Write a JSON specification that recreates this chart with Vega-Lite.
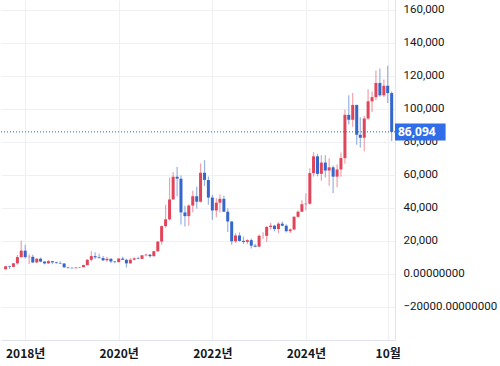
{
  "$schema": "https://vega.github.io/schema/vega-lite/v6.json",
  "width": 394,
  "height": 340,
  "padding": 0,
  "background": "white",
  "config": {"view": {"stroke": null}, "font": "Noto Sans"},
  "data": {"values": [
    {"d":"2017-08-01","o":2871,"h":4740,"l":2603,"c":4703},
    {"d":"2017-09-01","o":4701,"h":5013,"l":2972,"c":4339},
    {"d":"2017-10-01","o":4341,"h":6470,"l":4108,"c":6468},
    {"d":"2017-11-01","o":6449,"h":11517,"l":5520,"c":10233},
    {"d":"2017-12-01","o":10198,"h":20089,"l":9822,"c":14156},
    {"d":"2018-01-01","o":14112,"h":17712,"l":9402,"c":10221},
    {"d":"2018-02-01","o":10237,"h":11958,"l":6048,"c":10397},
    {"d":"2018-03-01","o":10385,"h":11711,"l":6675,"c":6973},
    {"d":"2018-04-01","o":7003,"h":9745,"l":6526,"c":9240},
    {"d":"2018-05-01","o":9251,"h":9964,"l":7090,"c":7494},
    {"d":"2018-06-01","o":7500,"h":7754,"l":5826,"c":6404},
    {"d":"2018-07-01","o":6411,"h":8424,"l":6133,"c":7780},
    {"d":"2018-08-01","o":7769,"h":7769,"l":5880,"c":7037},
    {"d":"2018-09-01","o":7044,"h":7389,"l":6142,"c":6625},
    {"d":"2018-10-01","o":6619,"h":7680,"l":6183,"c":6318},
    {"d":"2018-11-01","o":6318,"h":6553,"l":3652,"c":4017},
    {"d":"2018-12-01","o":4024,"h":4310,"l":3191,"c":3742},
    {"d":"2019-01-01","o":3746,"h":4109,"l":3400,"c":3457},
    {"d":"2019-02-01","o":3460,"h":4210,"l":3397,"c":3854},
    {"d":"2019-03-01","o":3853,"h":4296,"l":3733,"c":4105},
    {"d":"2019-04-01","o":4105,"h":5642,"l":4097,"c":5350},
    {"d":"2019-05-01","o":5350,"h":9008,"l":5332,"c":8574},
    {"d":"2019-06-01","o":8573,"h":13796,"l":7564,"c":10817},
    {"d":"2019-07-01","o":10796,"h":13129,"l":9067,"c":10085},
    {"d":"2019-08-01","o":10077,"h":12273,"l":9421,"c":9630},
    {"d":"2019-09-01","o":9630,"h":10898,"l":7830,"c":8293},
    {"d":"2019-10-01","o":8299,"h":10370,"l":7446,"c":9199},
    {"d":"2019-11-01","o":9193,"h":9505,"l":6617,"c":7569},
    {"d":"2019-12-01","o":7571,"h":7743,"l":6435,"c":7193},
    {"d":"2020-01-01","o":7194,"h":9553,"l":6914,"c":9350},
    {"d":"2020-02-01","o":9346,"h":10500,"l":8471,"c":8600},
    {"d":"2020-03-01","o":8600,"h":9188,"l":3858,"c":6438},
    {"d":"2020-04-01","o":6438,"h":9460,"l":6202,"c":8658},
    {"d":"2020-05-01","o":8658,"h":10067,"l":8170,"c":9461},
    {"d":"2020-06-01","o":9463,"h":10380,"l":8975,"c":9137},
    {"d":"2020-07-01","o":9145,"h":11444,"l":8977,"c":11323},
    {"d":"2020-08-01","o":11322,"h":12468,"l":10585,"c":11680},
    {"d":"2020-09-01","o":11679,"h":12050,"l":9882,"c":10784},
    {"d":"2020-10-01","o":10795,"h":14000,"l":10380,"c":13781},
    {"d":"2020-11-01","o":13781,"h":19860,"l":13243,"c":19625},
    {"d":"2020-12-01","o":19633,"h":29300,"l":17650,"c":28990},
    {"d":"2021-01-01","o":28994,"h":41950,"l":28130,"c":33114},
    {"d":"2021-02-01","o":33114,"h":58350,"l":32296,"c":45137},
    {"d":"2021-03-01","o":45159,"h":61788,"l":45115,"c":58918},
    {"d":"2021-04-01","o":58926,"h":64854,"l":47044,"c":57750},
    {"d":"2021-05-01","o":57715,"h":59594,"l":30000,"c":37332},
    {"d":"2021-06-01","o":37293,"h":41330,"l":28805,"c":35040},
    {"d":"2021-07-01","o":35045,"h":42235,"l":29278,"c":41461},
    {"d":"2021-08-01","o":41461,"h":50500,"l":37332,"c":47100},
    {"d":"2021-09-01","o":47099,"h":52920,"l":39600,"c":43790},
    {"d":"2021-10-01","o":43816,"h":66999,"l":43320,"c":61318},
    {"d":"2021-11-01","o":61309,"h":69000,"l":53256,"c":57005},
    {"d":"2021-12-01","o":56907,"h":59041,"l":42000,"c":46306},
    {"d":"2022-01-01","o":46311,"h":47990,"l":32917,"c":38483},
    {"d":"2022-02-01","o":38481,"h":45821,"l":34322,"c":43193},
    {"d":"2022-03-01","o":43194,"h":48189,"l":37260,"c":45538},
    {"d":"2022-04-01","o":45554,"h":47444,"l":37697,"c":37714},
    {"d":"2022-05-01","o":37713,"h":39845,"l":25401,"c":31792},
    {"d":"2022-06-01","o":31792,"h":31957,"l":17708,"c":19785},
    {"d":"2022-07-01","o":19820,"h":24668,"l":18782,"c":23336},
    {"d":"2022-08-01","o":23337,"h":25204,"l":19600,"c":20050},
    {"d":"2022-09-01","o":20050,"h":22673,"l":18153,"c":19431},
    {"d":"2022-10-01","o":19431,"h":21085,"l":18190,"c":20495},
    {"d":"2022-11-01","o":20495,"h":21473,"l":15476,"c":17168},
    {"d":"2022-12-01","o":17168,"h":18387,"l":16257,"c":16548},
    {"d":"2023-01-01","o":16548,"h":23919,"l":16500,"c":23125},
    {"d":"2023-02-01","o":23125,"h":25250,"l":21351,"c":23147},
    {"d":"2023-03-01","o":23147,"h":29190,"l":19549,"c":28478},
    {"d":"2023-04-01","o":28478,"h":31000,"l":26942,"c":29268},
    {"d":"2023-05-01","o":29268,"h":29820,"l":25811,"c":27219},
    {"d":"2023-06-01","o":27219,"h":31431,"l":24797,"c":30477},
    {"d":"2023-07-01","o":30477,"h":31862,"l":28861,"c":29232},
    {"d":"2023-08-01","o":29232,"h":30176,"l":25166,"c":25940},
    {"d":"2023-09-01","o":25940,"h":27488,"l":24900,"c":26962},
    {"d":"2023-10-01","o":26962,"h":35198,"l":26538,"c":34639},
    {"d":"2023-11-01","o":34639,"h":38423,"l":34097,"c":37723},
    {"d":"2023-12-01","o":37723,"h":44700,"l":37615,"c":42283},
    {"d":"2024-01-01","o":42283,"h":48969,"l":38555,"c":42580},
    {"d":"2024-02-01","o":42580,"h":64000,"l":41884,"c":61130},
    {"d":"2024-03-01","o":61130,"h":73777,"l":59005,"c":71280},
    {"d":"2024-04-01","o":71280,"h":72797,"l":59191,"c":60672},
    {"d":"2024-05-01","o":60672,"h":71979,"l":56552,"c":67491},
    {"d":"2024-06-01","o":67491,"h":71950,"l":58402,"c":62678},
    {"d":"2024-07-01","o":62678,"h":70079,"l":53485,"c":64619},
    {"d":"2024-08-01","o":64619,"h":65659,"l":49000,"c":58974},
    {"d":"2024-09-01","o":58974,"h":66480,"l":52550,"c":63327},
    {"d":"2024-10-01","o":63327,"h":73620,"l":58946,"c":70215},
    {"d":"2024-11-01","o":70215,"h":99588,"l":66835,"c":96407},
    {"d":"2024-12-01","o":96407,"h":108353,"l":90500,"c":93429},
    {"d":"2025-01-01","o":93429,"h":109588,"l":89164,"c":102429},
    {"d":"2025-02-01","o":102429,"h":102500,"l":78258,"c":84350},
    {"d":"2025-03-01","o":84350,"h":95000,"l":76555,"c":82550},
    {"d":"2025-04-01","o":82550,"h":95758,"l":74434,"c":94207},
    {"d":"2025-05-01","o":94207,"h":111980,"l":93377,"c":104591},
    {"d":"2025-06-01","o":104591,"h":110530,"l":98200,"c":107135},
    {"d":"2025-07-01","o":107135,"h":123218,"l":105271,"c":115764},
    {"d":"2025-08-01","o":115764,"h":124457,"l":107350,"c":108246},
    {"d":"2025-09-01","o":108246,"h":117900,"l":107255,"c":114049},
    {"d":"2025-10-01","o":114049,"h":126199,"l":103528,"c":109608},
    {"d":"2025-11-01","o":109608,"h":110600,"l":80600,"c":86094}
  ]},
  "layer": [
    {
      "mark": {"type": "rule", "strokeWidth": 1.2, "opacity": 0.5},
      "encoding": {
        "x": {
          "field": "d", "type": "temporal",
          "scale": {"domain": [{"year": 2017, "month": 6, "date": 26}, {"year": 2025, "month": 11, "date": 27}], "padding": 0},
          "axis": {
            "title": null,
            "values": [{"year": 2018, "month": 1, "date": 1}, {"year": 2020, "month": 1, "date": 1}, {"year": 2022, "month": 1, "date": 1}, {"year": 2024, "month": 1, "date": 1}, {"year": 2025, "month": 10, "date": 1}],
            "tickCount": 10,
            "labelExpr": "month(datum.value) == 9 ? '10월' : year(datum.value) + '년'",
            "grid": true, "gridColor": "#eef0f4",
            "domain": true, "domainColor": "#e0e3eb",
            "ticks": false,
            "labelFont": "Noto Sans CJK KR", "labelFontSize": 12, "labelFontWeight": "bold",
            "labelColor": "#131722", "labelPadding": 8, "labelFlush": false, "labelOverlap": false
          }
        },
        "y": {
          "field": "l", "type": "quantitative",
          "scale": {"domain": [-40000, 166000], "nice": false, "zero": false},
          "axis": {
            "title": null, "orient": "right",
            "values": [-20000, 0, 20000, 40000, 60000, 80000, 100000, 120000, 140000, 160000],
            "tickCount": 12,
            "labelExpr": "datum.value <= 0 ? format(datum.value, '.8f') : format(datum.value, ',')",
            "grid": true, "gridColor": "#eef0f4",
            "domain": true, "domainColor": "#e0e3eb",
            "ticks": false, "labelPadding": 8, "labelOverlap": false, "labelBound": false,
            "labelFont": "Roboto", "labelFontSize": 11.5, "labelColor": "#131722"
          }
        },
        "y2": {"field": "h"},
        "color": {"condition": {"test": "datum.c >= datum.o", "value": "#e0455a"}, "value": "#3466cc"}
      }
    },
    {
      "mark": {"type": "bar", "width": 3},
      "encoding": {
        "x": {"field": "d", "type": "temporal"},
        "y": {"field": "o", "type": "quantitative"},
        "y2": {"field": "c"},
        "color": {"condition": {"test": "datum.c >= datum.o", "value": "#e0455a"}, "value": "#3466cc"}
      }
    },
    {
      "data": {"values": [{"last": 86094}]},
      "mark": {"type": "rule", "strokeDash": [1, 2], "color": "#33689e", "strokeWidth": 1},
      "encoding": {"y": {"field": "last", "type": "quantitative"}}
    },
    {
      "data": {"values": [{"last": 86094}]},
      "mark": {"type": "rect", "color": "#2f6ee8", "height": 17, "clip": false},
      "encoding": {
        "x": {"datum": {"year": 2025, "month": 11, "date": 27}, "type": "temporal"},
        "x2": {"datum": {"year": 2026, "month": 12, "date": 27}},
        "y": {"field": "last", "type": "quantitative"}
      }
    },
    {
      "data": {"values": [{"last": 86094}]},
      "mark": {"type": "text", "color": "white", "align": "left", "baseline": "middle", "fontSize": 12, "fontWeight": "bold", "font": "Noto Sans", "clip": false},
      "encoding": {
        "x": {"datum": {"year": 2025, "month": 12, "date": 20}, "type": "temporal"},
        "y": {"field": "last", "type": "quantitative"},
        "text": {"field": "last", "type": "quantitative", "format": ","}
      }
    }
  ]
}
